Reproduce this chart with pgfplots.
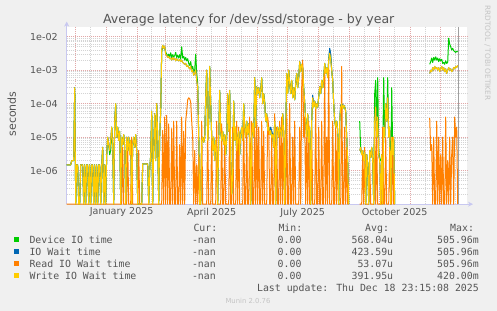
\documentclass[border=0pt]{standalone}
\usepackage{fontspec}
\setmainfont{DejaVu Sans}
\newfontfamily\monofont{DejaVu Sans Mono}
\usepackage{pgfplots}
\pgfplotsset{compat=1.18}
\usepackage{pgfplotstable}
\usetikzlibrary{arrows.meta}
\definecolor{bg}{HTML}{F0F0F0}
\definecolor{cdev}{HTML}{00CC00}
\definecolor{cio}{HTML}{0066B3}
\definecolor{crd}{HTML}{FF8000}
\definecolor{cwr}{HTML}{FFCC00}
\definecolor{mgrid}{HTML}{E2A8A8}
\definecolor{ngrid}{HTML}{D4D4D4}
\definecolor{axcol}{HTML}{C8C8F0}
\definecolor{txt}{HTML}{555555}
\definecolor{faint}{HTML}{C4C4C4}

\pgfplotstableread{
d dev iow rd wr
-40 1.5e-6 1.5e-6 1e-7 1.5e-6
-38 1.5e-6 1.5e-6 1e-7 1.5e-6
-36 1.5e-6 1.5e-6 1e-7 1.5e-6
-35 2e-6 2e-6 1e-7 2e-6
-33 2e-6 2e-6 1e-7 2e-6
-32 3e-4 3e-4 1e-7 3e-4
-31 1e-7 1e-7 1e-7 1e-7
-30 1.5e-6 1.5e-6 1e-7 1.5e-6
-29 1.5e-6 1.5e-6 1e-7 1.5e-6
-28 1e-7 1e-7 1e-7 1e-7
-27 1e-7 1e-7 1e-7 1e-7
-26 1.5e-6 1.5e-6 1e-7 1.5e-6
-24 1.5e-6 1.5e-6 1e-7 1.5e-6
-23 1e-7 1e-7 1e-7 1e-7
-22 1.5e-6 1.5e-6 1e-7 1.5e-6
-21 1e-7 1e-7 1e-7 1e-7
-20 1.5e-6 1.5e-6 1e-7 1.5e-6
-19 1.5e-6 1.5e-6 1e-7 1.5e-6
-18 1e-7 1e-7 1e-7 1e-7
-17 1.5e-6 1.5e-6 1e-7 1.5e-6
-16 1e-7 1e-7 1e-7 1e-7
-15 1.5e-6 1.5e-6 1e-7 1.5e-6
-14 1.5e-6 1.5e-6 1e-7 1.5e-6
-13 1e-7 1e-7 1e-7 1e-7
-12 1.5e-6 1.5e-6 1e-7 1.5e-6
-11 1e-7 1e-7 1e-7 1e-7
-10 1.5e-6 1.5e-6 1e-7 1.5e-6
-9 1e-7 1e-7 1e-7 1e-7
-8 1.5e-6 1.5e-6 1e-7 1.5e-6
-7 1.5e-6 1.5e-6 1e-7 1.5e-6
-6 1e-7 1e-7 1e-7 1e-7
-5 1.5e-6 1.5e-6 1e-7 1.5e-6
-4 5e-6 5e-6 1e-7 5e-6
-3 1e-7 1e-7 1e-7 1e-7
-2 1.5e-6 1.5e-6 1e-7 1.5e-6
-1 1e-7 1e-7 1e-7 1e-7
0 3e-6 3e-6 1e-7 3e-6
1 1e-5 1e-5 1e-7 1e-5
2 6e-6 6e-6 1e-7 6e-6
3 3e-6 4e-6 1e-7 4e-6
4 4e-6 8e-6 1e-7 8e-6
5 2e-5 2e-5 1e-7 2e-5
6 5e-6 5e-6 1e-7 5e-6
7 1e-7 1e-7 1e-7 1e-7
8 3e-5 3e-5 1e-7 3e-5
9 1e-4 1e-4 1e-7 1e-4
10 1e-5 1e-5 1e-7 1e-5
11 2e-5 2e-5 1e-7 2e-5
12 8e-6 8e-6 1e-7 8e-6
13 1.5e-5 1.5e-5 1e-7 1.5e-5
14 1e-7 1e-7 1e-7 1e-7
15 1e-5 1e-5 1e-7 1e-5
16 6e-6 6e-6 5e-6 6e-6
17 1.2e-5 1.2e-5 1e-7 1.2e-5
18 5e-6 5e-6 1e-7 5e-6
19 1e-7 1e-7 1e-7 1e-7
20 1e-5 1e-5 1e-7 1e-5
21 4e-6 4e-6 6e-6 4e-6
22 1e-5 1e-5 1e-7 1e-5
23 3e-6 3e-6 1e-7 3e-6
24 8e-6 8e-6 1e-7 8e-6
25 1e-7 1e-7 1e-5 1e-7
26 6e-6 6e-6 1e-7 6e-6
27 1e-5 1e-5 1e-7 1e-5
28 5e-6 5e-6 1e-7 5e-6
29 1.2e-5 1.2e-5 1e-7 1.2e-5
30 4e-6 4e-6 1e-7 4e-6
31 1e-7 1e-7 1e-7 1e-7
32 1e-7 1e-7 4e-6 1e-7
33 1e-7 1e-7 1e-7 1e-7
35 1e-7 1e-7 1e-7 1e-7
36 1.6e-6 1.6e-6 1e-7 1.6e-6
41 1.6e-6 1.6e-6 1e-7 1.6e-6
42 1e-7 1e-7 1e-7 1e-7
43 1e-6 1e-6 1e-7 1e-6
44 3e-6 3e-6 1e-7 3e-6
45 6e-5 6e-5 1e-7 6e-5
46 1e-7 1e-7 1e-7 1e-7
47 5e-6 5e-6 1e-7 5e-6
48 5e-5 5e-5 1e-7 5e-5
49 2e-6 2e-6 1e-7 2e-6
50 1e-4 1e-4 1e-7 1e-4
51 1e-5 1e-5 1e-7 1e-5
52 1e-7 1e-7 1e-7 1e-7
53 1e-5 1e-5 1e-7 1e-5
54 6e-5 6e-5 1e-7 6e-5
55 3.5e-3 4e-3 1e-7 4e-3
56 5e-3 5.5e-3 1.6e-5 5.5e-3
57 5.2e-3 4.5e-3 1e-7 4.5e-3
58 4.5e-3 5.2e-3 4e-5 5.2e-3
59 3.5e-3 3e-3 1e-7 3e-3
60 3e-3 2.8e-3 4.5e-5 2.8e-3
61 2.6e-3 2.4e-3 1e-7 2.4e-3
62 3e-3 2.6e-3 2.5e-5 2.6e-3
63 2.5e-3 2.2e-3 1e-7 2.2e-3
64 3.3e-3 2.3e-3 1e-7 2.3e-3
65 2.4e-3 2e-3 1.8e-5 2e-3
66 2.9e-3 2.4e-3 1e-7 2.4e-3
67 2.5e-3 2.1e-3 3e-5 2.1e-3
68 2.7e-3 2.3e-3 1e-7 2.3e-3
69 3.4e-3 1.9e-3 1e-7 1.9e-3
70 2.4e-3 2.2e-3 3e-5 2.2e-3
71 2.8e-3 2e-3 1e-7 2e-3
72 2.3e-3 1.9e-3 1e-7 1.9e-3
73 2.9e-3 2.1e-3 6e-6 2.1e-3
74 2.2e-3 1.8e-3 1e-7 1.8e-3
75 5e-3 2e-3 4e-5 2e-3
76 2.3e-3 1.7e-3 1e-7 1.7e-3
77 2.6e-3 1.6e-3 1.5e-5 1.6e-3
78 2e-3 1.5e-3 1e-7 1.5e-3
79 2.4e-3 1.6e-3 3e-5 1.6e-3
80 1.9e-3 1.3e-3 6e-5 1.3e-3
81 2.2e-3 1.4e-3 1.3e-4 1.4e-3
82 1.6e-3 1.2e-3 1.5e-4 1.2e-3
83 1.4e-3 1.1e-3 1.4e-4 1.1e-3
84 1.8e-3 1.3e-3 1.1e-4 1.3e-3
85 1.1e-3 9e-4 3e-5 9e-4
86 1.3e-3 1e-3 1e-5 1e-3
87 9e-4 7e-4 1e-7 7e-4
88 1e-3 8e-4 4e-6 8e-4
89 3e-3 1e-3 1e-7 1e-3
90 8e-4 5e-4 1.5e-6 5e-4
91 4e-4 3e-4 1e-7 3e-4
92 1.2e-5 1e-5 3e-6 1e-5
93 1e-7 1e-7 1e-7 1e-7
94 1e-7 1e-7 1e-7 1e-7
95 8e-6 8e-6 3e-5 8e-6
96 1e-5 1e-5 1e-7 1e-5
97 7e-6 7e-6 1e-7 7e-6
98 1e-5 1e-5 1e-7 1e-5
99 1.5e-4 1.5e-4 1e-7 1.5e-4
100 1e-3 1e-3 1e-7 1e-3
101 8e-6 8e-6 2e-5 8e-6
102 3e-5 3e-5 1e-7 3e-5
103 1.3e-3 1.3e-3 1e-7 1.3e-3
104 1e-4 1e-4 1e-7 1e-4
105 1e-5 1e-5 1.5e-5 1e-5
106 4e-6 4e-6 1e-7 4e-6
107 1e-5 1e-5 1e-7 1e-5
108 2e-6 2e-6 1e-7 2e-6
109 8e-6 8e-6 1e-7 8e-6
110 3e-6 3e-6 3e-5 3e-6
111 1e-7 1e-7 1e-7 1e-7
112 1e-5 1e-5 1e-7 1e-5
113 2.5e-4 2.5e-4 1e-7 2.5e-4
114 1.5e-5 1.5e-5 1e-7 1.5e-5
115 8e-6 8e-6 2.5e-5 8e-6
116 1.5e-5 1.5e-5 1e-7 1.5e-5
117 6e-6 6e-6 1e-7 6e-6
118 1.2e-5 1.2e-5 1e-5 1.2e-5
119 3e-6 3e-6 1e-7 3e-6
120 1e-5 1e-5 1e-7 1e-5
121 2e-4 2e-4 1e-7 2e-4
122 1.5e-5 1.5e-5 1e-7 1.5e-5
123 2.5e-4 2.5e-4 4e-5 2.5e-4
124 2e-6 2e-6 1e-7 2e-6
125 2e-7 2e-7 1e-7 2e-7
126 1e-6 1e-6 2e-5 1e-6
127 1.2e-4 1.2e-4 1e-7 1.2e-4
128 8e-6 8e-6 1e-7 8e-6
129 2e-5 2e-5 1e-7 2e-5
130 4e-6 4e-6 3e-5 4e-6
131 1e-5 1e-5 1e-7 1e-5
132 1.5e-5 1.5e-5 2e-5 1.5e-5
133 3e-6 3e-6 1e-7 3e-6
134 1.2e-5 1.2e-5 1e-7 1.2e-5
135 2e-5 2e-5 1e-7 2e-5
136 8e-6 8e-6 1e-7 8e-6
137 1e-4 1e-4 5e-5 1e-4
138 2e-5 2e-5 1e-7 2e-5
139 1e-5 1e-5 1e-7 1e-5
140 3e-5 3e-5 1.5e-5 3e-5
141 1.2e-5 1.2e-5 1e-7 1.2e-5
142 2.5e-5 2.5e-5 1e-7 2.5e-5
143 8e-6 8e-6 4e-5 8e-6
144 1e-7 1e-7 1e-7 1e-7
145 1.1e-5 1.1e-5 3e-5 1.1e-5
146 2.6e-5 2.6e-5 1e-7 2.6e-5
147 1e-5 1e-5 1e-7 1e-5
148 6e-4 6e-4 2e-5 6e-4
149 2e-5 2e-5 1e-7 2e-5
150 3.2e-4 3.2e-4 3e-5 3.2e-4
151 2e-4 2e-4 1e-7 2e-4
152 3e-4 3e-4 2e-5 3e-4
153 1.5e-4 1.5e-4 1e-7 1.5e-4
154 2.6e-4 2.6e-4 1e-7 2.6e-4
155 6e-4 6e-4 3e-5 6e-4
156 1e-4 1e-4 1e-7 1e-4
157 2e-4 2e-4 1.5e-5 2e-4
158 1.2e-4 1e-4 1e-7 1e-4
159 3e-5 3e-5 1e-7 3e-5
160 5e-5 5e-5 1e-7 5e-5
161 1.6e-5 1.6e-5 4e-5 1.6e-5
162 2e-5 2e-5 2e-5 2e-5
163 1.2e-5 1.2e-5 1e-7 1.2e-5
164 1.6e-5 2e-5 1e-7 1.6e-5
165 1e-5 1.5e-5 1e-5 1e-5
166 1.2e-5 1.2e-5 1e-7 1.2e-5
167 5e-6 5e-6 1e-7 5e-6
168 3e-5 3e-5 5e-5 3e-5
169 1e-7 1e-7 1e-7 1e-7
170 1.5e-5 1.5e-5 2e-5 1.5e-5
171 2e-5 2e-5 1e-7 2e-5
172 1e-5 1e-5 1e-7 1e-5
173 2e-5 2e-5 3e-5 2e-5
174 1.5e-5 1.5e-5 1e-7 1.5e-5
175 1e-5 1e-5 4e-5 1e-5
176 5e-5 5e-5 1e-7 5e-5
177 1.2e-5 1.2e-5 2e-5 1.2e-5
178 1e-7 1e-7 1e-7 1e-7
179 1e-5 1e-5 1e-7 1e-5
180 8e-4 8e-4 5e-5 8e-4
181 2e-4 2e-4 1e-7 2e-4
182 1e-3 1e-3 1e-7 1e-3
183 4e-4 4e-4 1e-4 4e-4
184 2e-4 2e-4 1e-7 2e-4
185 5e-4 5e-4 1e-7 5e-4
186 1.5e-4 1.5e-4 1e-5 1.5e-4
187 3e-4 3e-4 1e-7 3e-4
188 1.3e-4 1.3e-4 3e-5 1.3e-4
189 4e-4 4e-4 1e-7 4e-4
190 8e-4 8e-4 1e-7 8e-4
191 3e-4 3e-4 1e-7 3e-4
192 6e-4 6e-4 1e-7 6e-4
193 1.8e-3 1.8e-3 2e-5 1.8e-3
194 9e-4 9e-4 1e-7 9e-4
195 1.5e-3 1.5e-3 3e-4 1.5e-3
196 1.2e-3 1.2e-3 2e-3 1.2e-3
197 3e-4 3e-4 1e-5 3e-4
198 1.1e-4 1.1e-4 4e-5 1.1e-4
199 3e-5 3e-5 1e-7 3e-5
200 1e-5 1e-5 1.5e-5 1e-5
201 5e-5 5e-5 1e-7 5e-5
202 7e-6 7e-6 3e-5 7e-6
203 2e-5 2e-5 1e-7 2e-5
204 1e-7 1e-7 1e-7 1e-7
205 3e-5 3e-5 2e-5 3e-5
206 1.5e-4 1.8e-4 1e-7 1.5e-4
207 8e-5 9e-5 1e-7 8e-5
208 1.2e-4 1.2e-4 1e-7 1.2e-4
209 7e-5 8e-5 1e-4 7e-5
210 1e-4 1e-4 1e-7 1e-4
211 8e-5 8e-5 1e-7 8e-5
212 1.6e-4 1.6e-4 2e-5 1.6e-4
213 3.2e-4 3.2e-4 1e-7 3.2e-4
214 2e-4 2e-4 1e-7 2e-4
215 5e-4 5e-4 3e-5 5e-4
216 3e-4 3e-4 1e-7 3e-4
217 6e-4 6e-4 1e-7 6e-4
218 1.6e-3 1.6e-3 1e-3 1.6e-3
219 8e-4 8e-4 1e-7 8e-4
220 1.2e-3 1.2e-3 1e-5 1.2e-3
221 6e-4 6e-4 1e-7 6e-4
222 2e-3 2e-3 1.6e-3 2e-3
223 4e-3 4.5e-3 1e-7 3.2e-3
224 2.5e-3 3e-3 1e-7 2e-3
225 1e-3 1e-3 1e-7 1e-3
226 5e-4 5e-4 3e-5 5e-4
227 1e-4 1e-4 1e-7 1e-4
228 3.2e-5 3.2e-5 1e-7 3.2e-5
229 2e-5 2e-5 2e-5 2e-5
230 3e-5 3e-5 1e-7 3e-5
231 1.6e-5 1.6e-5 1e-5 1.6e-5
232 1e-7 1e-7 1e-7 1e-7
233 3e-5 3e-5 1e-7 3e-5
234 8e-5 9e-5 1e-7 8e-5
235 1e-4 1e-4 1.3e-3 1e-4
236 7e-5 9e-5 1e-7 7e-5
237 9e-5 9e-5 1e-7 9e-5
238 8e-5 8e-5 2e-5 8e-5
239 6e-5 6e-5 1e-7 6e-5
240 1e-5 1e-5 5e-6 1e-5
241 2e-6 2e-6 1e-7 2e-6
242 1e-7 1e-7 1e-7 1e-7
243 nan nan nan nan
253 3e-5 4e-6 1e-7 4e-6
254 4e-6 5e-6 1e-7 5e-6
255 3e-6 3e-6 1e-7 3e-6
256 4e-6 4e-6 3e-6 4e-6
257 2e-6 2e-6 1e-7 2e-6
258 3.5e-6 3.5e-6 5e-6 3.5e-6
259 1e-7 1e-7 1e-7 1e-7
260 3e-6 3e-6 1e-7 3e-6
261 1.5e-6 1.5e-6 1e-7 1.5e-6
262 1e-7 1e-7 1e-7 1e-7
263 4e-6 4e-6 2e-6 4e-6
264 2.5e-6 2.5e-6 1e-7 2.5e-6
265 5e-6 5e-6 1e-7 5e-6
266 2e-6 2e-6 1e-7 2e-6
267 1e-7 1e-7 1e-7 1e-7
268 2e-4 3e-5 3e-5 3e-5
269 5e-4 8e-5 1e-7 8e-5
270 1e-5 1e-5 1e-5 1e-5
271 6e-4 4e-5 1e-7 4e-5
272 4e-6 3e-6 1e-7 3e-6
273 2e-6 2e-6 1e-7 2e-6
274 2e-6 1e-7 1e-7 1e-7
275 3e-6 3e-6 1e-7 3e-6
276 2e-6 1e-7 2e-5 1e-7
277 6e-4 2e-5 1e-7 2e-5
278 1e-5 1e-5 1e-7 1e-5
279 1e-4 1e-4 1e-5 1e-4
280 3e-5 3e-5 1e-7 3e-5
281 6e-4 1.5e-4 1e-7 1.5e-4
282 1.2e-5 1e-5 1e-7 1e-5
283 2e-5 2e-5 5e-6 2e-5
284 1e-7 1e-7 1e-7 1e-7
285 3e-4 1e-5 1e-7 1e-5
286 4e-6 3e-6 1e-5 3e-6
287 1e-5 1e-5 1e-7 1e-5
288 1e-7 1e-7 1e-7 1e-7
289 nan nan nan nan
323 1.5e-3 8e-4 3.7e-5 8e-4
324 1.8e-3 1e-3 4e-6 1e-3
325 2.3e-3 9e-4 6e-6 9e-4
326 1.7e-3 1.2e-3 1e-7 1.2e-3
327 2.4e-3 1e-3 1e-5 1e-3
328 2e-3 1.3e-3 1e-7 1.3e-3
329 2.5e-3 1.1e-3 1e-7 1.1e-3
330 2e-3 1.2e-3 3e-5 1.2e-3
331 2.3e-3 1e-3 1e-7 1e-3
332 1.8e-3 1.2e-3 1e-5 1.2e-3
333 2.2e-3 9e-4 1e-7 9e-4
334 1.9e-3 1.1e-3 3e-6 1.1e-3
335 2.1e-3 1.3e-3 1e-7 1.3e-3
336 1.6e-3 1e-3 1e-5 1e-3
337 1.7e-3 1.2e-3 1e-7 1.2e-3
338 1.5e-3 9e-4 1e-7 9e-4
339 1.9e-3 1.1e-3 4e-5 1.1e-3
340 1.6e-3 8e-4 1e-7 8e-4
341 1.7e-3 1e-3 2e-6 1e-3
342 9e-3 1.2e-3 1e-7 1.2e-3
343 6e-3 1e-3 1e-5 1e-3
344 5e-3 1.1e-3 1e-7 1.1e-3
345 4e-3 9e-4 3e-6 9e-4
346 4.5e-3 1e-3 1e-5 1e-3
347 3.8e-3 1.2e-3 1e-7 1.2e-3
348 3.6e-3 1.1e-3 4e-5 1.1e-3
349 3.4e-3 1.3e-3 1e-5 1.3e-3
350 3.7e-3 1.2e-3 2e-5 1.2e-3
351 3.5e-3 1.4e-3 1e-7 1.4e-3
}\lat

\begin{document}
\begin{tikzpicture}
\fill[bg] (0bp,0bp) rectangle (497bp,311bp);
\begin{axis}[
  at={(66.7bp,106.8bp)}, anchor=south west,
  scale only axis, width=400.3bp, height=177.6bp,
  ymode=log, xmin=-40, xmax=360.3, ymin=1e-7, ymax=2e-2,
  axis background/.style={fill=white},
  axis lines=left,
  axis line style={draw=axcol, line width=1bp},
  x axis line style={-{Stealth[length=5bp,width=5bp]}, shorten >=-6bp},
  y axis line style={-{Stealth[length=5bp,width=5bp]}, shorten >=-5bp},
  xtick={-31,0,31,59,90,120,151,181,212,243,273,304,334},
  xticklabels={},
  minor xtick={-16,15,45,74,105,135,166,196,227,258,288,319,349},
  extra x ticks={15,105,196,288},
  extra x tick labels={January 2025,April 2025,July 2025,October 2025},
  extra x tick style={grid=none, major tick length=0pt},
  ytick={1e-7,1e-6,1e-5,1e-4,1e-3,1e-2},
  yticklabels={,1e-06,1e-05,1e-04,1e-03,1e-02},
  minor ytick={2e-7,3e-7,4e-7,5e-7,6e-7,7e-7,8e-7,9e-7,
    2e-6,3e-6,4e-6,5e-6,6e-6,7e-6,8e-6,9e-6,
    2e-5,3e-5,4e-5,5e-5,6e-5,7e-5,8e-5,9e-5,
    2e-4,3e-4,4e-4,5e-4,6e-4,7e-4,8e-4,9e-4,
    2e-3,3e-3,4e-3,5e-3,6e-3,7e-3,8e-3,9e-3},
  grid=both,
  major grid style={draw=mgrid, line width=0.8bp, dash pattern=on 1bp off 1bp},
  minor grid style={draw=ngrid, line width=0.8bp, dash pattern=on 1bp off 1bp},
  tick style={draw=none},
  xticklabel style={font=\fontsize{9.6}{11}\selectfont, text=txt, inner sep=0pt, anchor=north, yshift=-3.5bp},
  yticklabel style={font=\fontsize{9.6}{11}\selectfont, text=txt, inner sep=0pt, anchor=east, xshift=-6.7bp},
  unbounded coords=jump,
  every axis plot/.append style={line width=1bp, line join=round},
]
\addplot[cdev] table[x=d,y=dev]{\lat};
\addplot[cio] table[x=d,y=iow]{\lat};
\addplot[crd] table[x=d,y=rd]{\lat};
\addplot[cwr] table[x=d,y=wr]{\lat};
\addplot[gray!75] coordinates {(351.3,1e-7) (351.3,2e-2)};
\end{axis}

\begin{scope}[x=1bp,y=1bp]
\node[anchor=base, text=txt, font=\fontsize{12.6}{14}\selectfont] at (248.7,287.7) {Average latency for /dev/ssd/storage - by year};
\node[rotate=90, text=txt, font=\fontsize{11}{13}\selectfont] at (11.7,197) {seconds};
\node[rotate=-90, text=faint, font=\fontsize{7.4}{9}\selectfont] at (487.5,258) {RRDTOOL / TOBI OETIKER};

\begin{scope}[font=\monofont\fontsize{9.9}{11}\selectfont, text=txt]
\node[anchor=base west] at (190,79.5) {Cur:};
\node[anchor=base west] at (275,79.5) {Min:};
\node[anchor=base west] at (361.7,79.5) {Avg:};
\node[anchor=base west] at (446.7,79.5) {Max:};

\fill[cdev] (14,68.9) rectangle (19.3,74.2);
\node[anchor=base west] at (26,67.7) {Device IO time};
\node[anchor=base east] at (219.3,67.7) {-nan};
\node[anchor=base east] at (305,67.7) {0.00};
\node[anchor=base east] at (396.7,67.7) {568.04u};
\node[anchor=base east] at (482.3,67.7) {505.96m};

\fill[cio] (14,56.9) rectangle (19.3,62.2);
\node[anchor=base west] at (26,55.7) {IO Wait time};
\node[anchor=base east] at (219.3,55.7) {-nan};
\node[anchor=base east] at (305,55.7) {0.00};
\node[anchor=base east] at (396.7,55.7) {423.59u};
\node[anchor=base east] at (482.3,55.7) {505.96m};

\fill[crd] (14,44.9) rectangle (19.3,50.2);
\node[anchor=base west] at (26,43.7) {Read IO Wait time};
\node[anchor=base east] at (219.3,43.7) {-nan};
\node[anchor=base east] at (305,43.7) {0.00};
\node[anchor=base east] at (396.7,43.7) {53.07u};
\node[anchor=base east] at (482.3,43.7) {505.96m};

\fill[cwr] (14,32.9) rectangle (19.3,38.2);
\node[anchor=base west] at (26,31.7) {Write IO Wait time};
\node[anchor=base east] at (219.3,31.7) {-nan};
\node[anchor=base east] at (305,31.7) {0.00};
\node[anchor=base east] at (396.7,31.7) {391.95u};
\node[anchor=base east] at (482.3,31.7) {420.00m};

\node[anchor=base east] at (482.3,19.7) {Last update: Thu Dec 18 23:15:08 2025};
\end{scope}
\node[anchor=base, text=faint, font=\fontsize{6.9}{8}\selectfont] at (248,8) {Munin 2.0.76};
\end{scope}

\pgfresetboundingbox
\path[use as bounding box] (0bp,0bp) rectangle (497bp,311bp);
\end{tikzpicture}
\end{document}
